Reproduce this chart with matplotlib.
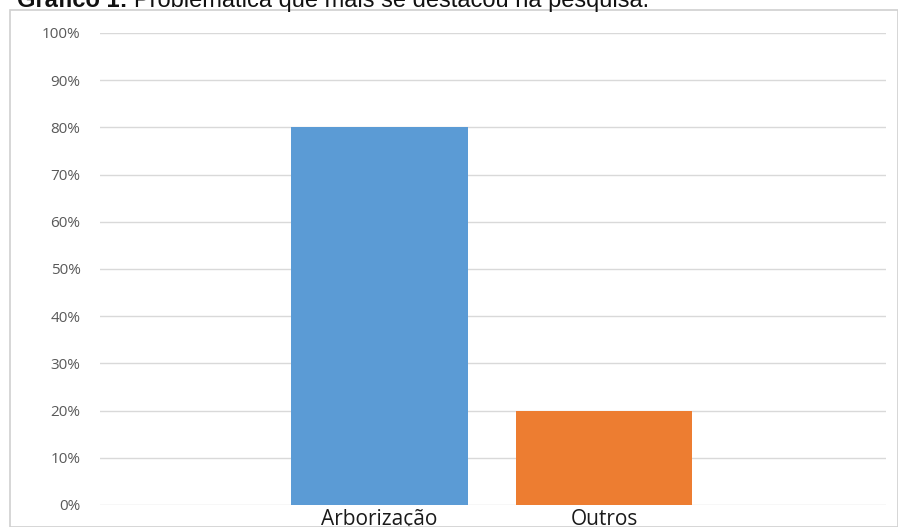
import matplotlib
matplotlib.use("Agg")
import matplotlib.pyplot as plt
from matplotlib.patches import Rectangle
from matplotlib.ticker import FuncFormatter

categories = ["Arborização", "Outros"]
values = [80, 20]
colors = ["#5B9BD5", "#ED7D31"]
yticks = [0, 10, 20, 30, 40, 50, 60, 70, 80, 90, 100]
title_bold = "Gráfico 1:"
title_rest = "Problemática que mais se destacou na pesquisa."

W, H = 898, 527
fig = plt.figure(figsize=(W/100, H/100), dpi=100)
plt.rcParams['font.family'] = ['Open Sans', 'DejaVu Sans']

# chart frame
fig.patches.append(Rectangle((10/W, 0), (W-10)/W, (H-10)/H, transform=fig.transFigure,
                             fill=False, edgecolor="#d0d0d0", linewidth=1.2))

ax = fig.add_axes([100/W, (H-505)/H, 786/W, (505-33)/H])
x = list(range(len(categories)))
ax.bar(x, values, width=0.785, color=colors, zorder=3)
ax.set_ylim(0, 100)
ax.set_xlim(-1.245, 2.256)
ax.set_yticks(yticks)
ax.yaxis.set_major_formatter(FuncFormatter(lambda v, p: f"{int(v)}%"))
ax.grid(axis="y", color="#d9d9d9", linewidth=1, zorder=0)
for s in ax.spines.values():
    s.set_visible(False)
ax.tick_params(axis="y", length=0, labelsize=11, labelcolor="#595959", pad=14)
ax.set_xticks(x)
ax.set_xticklabels(categories, fontsize=15, color="#1a1a1a")
ax.tick_params(axis="x", length=0, pad=3)

# title, cut at top edge like the reference
renderer = fig.canvas.get_renderer()
fs = 17
base_y = 1.0 - 7/H
t1 = fig.text(17/W, base_y, title_bold, fontsize=fs, fontweight="bold", va="baseline",
              ha="left", color="#111111", family=["Liberation Sans", "DejaVu Sans"])
bb = t1.get_window_extent(renderer)
t2 = fig.text((bb.x1 + 6)/W, base_y, title_rest, fontsize=fs, va="baseline", ha="left",
              color="#111111", family=["Liberation Sans", "DejaVu Sans"])

fig.savefig("out.png", dpi=100)
